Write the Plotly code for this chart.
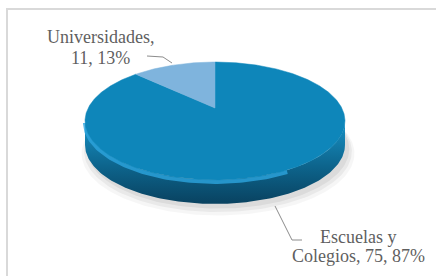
import numpy as np
import plotly.graph_objects as go

# ---- data ----
categories = ["Escuelas y Colegios", "Universidades"]
values = [75, 11]
label_first_lines = ["Escuelas y", "Universidades,"]
label_second_prefix = ["Colegios, ", ""]

# ---- style / geometry (pixel space) ----
W, H = 436, 276
CX, CY = 215.0, 108.0     # apex of the pie (projected centre)
RX, RY = 126.8, 56.1      # projected radii
P = 0.22                  # perspective factor
T = 24.0                  # thickness of the 3D side
TOP_COLORS = ["rgb(14,134,186)", "rgb(127,180,221)"]
TEXT_COLOR = "#5f5f5f"
FONT = "Liberation Serif"
FS = 18


def proj(phi_deg, r=1.0, dx=0.0, dy=0.0, sx=1.0):
    phi = np.radians(phi_deg)
    x = r * np.sin(phi)
    y = -r * np.cos(phi)
    d = 1 - P * y
    return CX + dx + sx * RX * x / d, CY + dy + sx * RY * y / d


fig = go.Figure()

# shadow under the pie
phis = np.linspace(0, 360, 241)
for sc, dy, col in [(1.05, T + 8, "rgba(0,0,0,0.035)"), (1.03, T + 6, "rgba(0,0,0,0.05)"),
                    (1.01, T + 4, "rgba(0,0,0,0.06)")]:
    xs, ys = proj(phis, dx=3, dy=dy, sx=sc)
    fig.add_trace(go.Scatter(x=xs, y=ys, mode="lines", fill="toself", fillcolor=col,
                             line=dict(width=0), hoverinfo="skip", showlegend=False))

# 3D side band (front part of the disk)
phi_r = np.degrees(np.arccos(-P))
front = np.linspace(phi_r, 360 - phi_r, 160)
tx, ty = proj(front)
bx, by = proj(front[::-1], dy=T)
fig.add_trace(go.Scatter(
    x=np.concatenate([tx, bx, tx[:1]]), y=np.concatenate([ty, by, ty[:1]]),
    mode="lines", fill="toself", line=dict(width=0),
    fillgradient=dict(type="vertical",
                      colorscale=[[0, "rgb(9,66,96)"], [0.45, "rgb(13,100,140)"],
                                  [1, "rgb(24,146,198)"]]),
    hoverinfo="skip", showlegend=False))

# bevel highlight along front edge
hx, hy = proj(np.linspace(phi_r + 50, 360 - phi_r, 120), dy=2)
fig.add_trace(go.Scatter(x=hx, y=hy, mode="lines",
                         line=dict(color="rgba(45,165,222,0.8)", width=4),
                         hoverinfo="skip", showlegend=False))

# top face slices, computed from the values
total = sum(values)
start = 0.0
for cat, v, col in zip(categories, values, TOP_COLORS):
    span = 360.0 * v / total
    arc = np.linspace(start, start + span, max(int(span), 2) * 2)
    ax_, ay_ = proj(arc)
    xs = np.concatenate([[CX], ax_, [CX]])
    ys = np.concatenate([[CY], ay_, [CY]])
    fig.add_trace(go.Scatter(x=xs, y=ys, mode="lines", fill="toself", fillcolor=col,
                             line=dict(width=0.5, color=col), name=cat,
                             hoverinfo="name", showlegend=False))
    start += span

# labels (one annotation per line, placed by baseline)
pcts = [round(100 * v / total) for v in values]
label_pos = [(358, 242, 261), (100, 42, 63)]   # centre x, baseline line1, baseline line2
for i in range(len(values)):
    lx, b1, b2 = label_pos[i]
    line2 = f"{label_second_prefix[i]}{values[i]}, {pcts[i]}%"
    for txt, base in [(label_first_lines[i], b1), (line2, b2)]:
        fig.add_annotation(x=lx, y=base - 0.3 * FS, text=txt, showarrow=False,
                           xanchor="center", yanchor="middle",
                           font=dict(family=FONT, size=FS, color=TEXT_COLOR))

# leader lines
fig.add_trace(go.Scatter(x=[147, 163, 172], y=[56, 57, 63], mode="lines",
                         line=dict(color="#8c8c8c", width=1), hoverinfo="skip",
                         showlegend=False))
fig.add_trace(go.Scatter(x=[275, 292, 302], y=[206, 240, 240], mode="lines",
                         line=dict(color="#8c8c8c", width=1), hoverinfo="skip",
                         showlegend=False))

# chart frame (paper coords: page pixel 7,9 -> beyond right/bottom)
fig.add_shape(type="rect", xref="paper", yref="paper",
              x0=7 / W, x1=1.1, y0=1 - 9 / H, y1=-0.1,
              line=dict(color="#d9d9d9", width=2), layer="below")

fig.update_layout(
    width=W, height=H, margin=dict(l=0, r=0, t=0, b=0),
    paper_bgcolor="white", plot_bgcolor="white",
    xaxis=dict(range=[0, W], visible=False, fixedrange=True),
    yaxis=dict(range=[H, 0], visible=False, fixedrange=True),
    showlegend=False,
)

fig.write_html("out.html", config={"displayModeBar": False},
               post_script="document.body.style.margin='0px';")
